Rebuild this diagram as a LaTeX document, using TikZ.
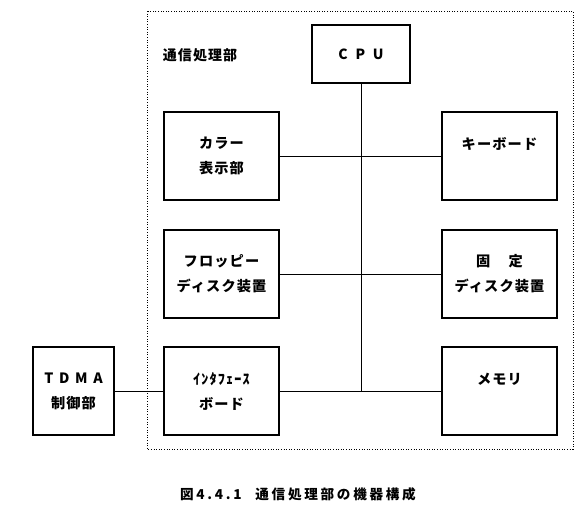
\documentclass[tikz,border=0pt]{standalone}
\usepackage{fontspec}
\setmainfont{Noto Sans CJK JP}[LetterSpace=8]
\usetikzlibrary{positioning}

\begin{document}
\begin{tikzpicture}[x=1pt, y=-1pt,
  devbox/.style={draw, line width=1.1pt, minimum width=115pt, minimum height=88pt, inner sep=0pt, align=center, font=\fontsize{14.2}{25}\selectfont\bfseries},
  spaced/.style={font=\fontsize{14}{25}\selectfont\bfseries\addfontfeature{LetterSpace=55}},
  bus/.style={line width=1pt},
  frame/.style={line width=1pt, dash pattern=on 1pt off 1.6pt}
]
  \useasboundingbox (0,0) rectangle (588,512);

  % 通信処理部
  \draw[frame] (147,11) rectangle (573,449);
  \node[font=\fontsize{14}{14}\selectfont\bfseries] (unitname) at (200,55) {通信処理部};

  \node[devbox, spaced, minimum width=98pt, minimum height=58pt] (cpu) at (361,54) {CPU};

  \node[devbox] (disp) at (221.5,156) {カラー\\表示部};
  \node[devbox] (kbd) at (499.5,156) {キーボード\\\mbox{}};
  \node[devbox] (fdd) at (221.5,274) {フロッピー\\ディスク装置};
  \node[devbox] (hdd) at (499.5,274) {固\hspace{1.3em}定\\ディスク装置};
  \node[devbox] (ifb) at (221.5,391) {ｲﾝﾀﾌｪｰｽ\\ボード};
  \node[devbox] (mem) at (499.5,391) {メモリ\\\mbox{}};

  \node[devbox, minimum width=81pt] (tdma) at (73.5,391) {{\addfontfeature{LetterSpace=40}TDMA}\\制御部};

  \coordinate (busend) at (cpu.south |- mem.west);
  \draw[bus] (cpu) -- (busend);
  \draw[bus] (disp) -- (kbd);
  \draw[bus] (fdd) -- (hdd);
  \draw[bus] (ifb) -- (mem);
  \draw[bus] (tdma) -- (ifb);

  \node[font=\fontsize{13.6}{14}\selectfont\bfseries\addfontfeature{LetterSpace=20}] (caption) at (298,494) {図4.4.1\hspace{1em}通信処理部の機器構成};
\end{tikzpicture}
\end{document}
